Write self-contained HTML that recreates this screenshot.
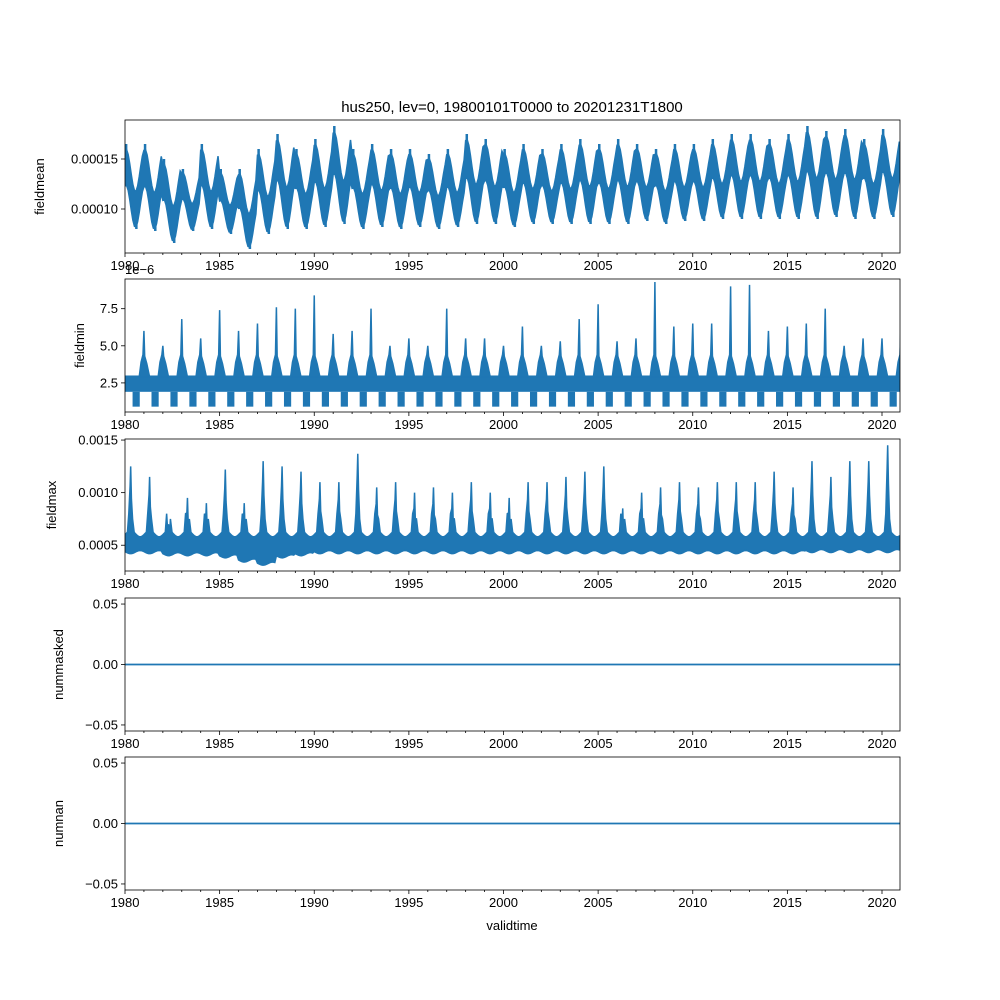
<!DOCTYPE html>
<html><head><meta charset="utf-8"><style>
html,body{margin:0;padding:0;background:#fff}
svg{display:block;font-family:"Liberation Sans","DejaVu Sans",sans-serif}
</style></head><body>
<svg id="chart" width="1000" height="1000" viewBox="0 0 1000 1000" xmlns="http://www.w3.org/2000/svg">
<rect width="1000" height="1000" fill="#fff"/>
<text x="512" y="112" font-size="15" text-anchor="middle">hus250, lev=0, 19800101T0000 to 20201231T1800</text>
<text x="512" y="930" font-size="13" text-anchor="middle">validtime</text>
<g id="plots"></g>
</svg>
<script>
const years=[];for(let y=1980;y<=2020;y++)years.push(y);
const meanPeak=[0.000165,0.000165,0.00015,0.00014,0.000165,0.00014,0.00014,0.00016,0.000175,0.00016,0.00017,0.000183,0.00016,0.000165,0.00016,0.00016,0.000155,0.00016,0.000175,0.00017,0.00016,0.000165,0.00016,0.000165,0.00017,0.000165,0.00017,0.000165,0.00016,0.000165,0.000165,0.00017,0.000175,0.000175,0.00017,0.000175,0.000183,0.000178,0.00018,0.00017,0.00018];
const meanLow=[0.00008,0.000078,0.000066,0.000078,0.00008,0.000075,0.00006,0.000075,0.00008,0.00008,0.000082,0.000085,0.00008,0.000082,0.00008,0.000082,0.00008,0.000082,0.000085,0.000085,0.000082,0.000085,0.000085,0.000085,0.000085,0.000085,0.000085,0.000088,0.000085,0.000088,0.000088,0.00009,0.00009,0.00009,0.00009,0.00009,0.00009,0.000092,0.00009,0.00009,0.000092];
const minPeak=[6,5,6.8,5.5,7.4,6,6.5,7.6,7.5,8.4,5.8,6,7.5,5,5.5,5,7.5,5.5,5.5,5,6.3,5,5.3,6.8,7.8,5.3,5.5,9.3,6.3,6.5,6.5,9,9.1,6,6.3,6.5,7.5,5,5.5,5.5,6.2];
const maxPeak=[0.00125,0.00115,0.0007,0.00095,0.0009,0.00122,0.0009,0.0013,0.00125,0.0012,0.0011,0.0011,0.00137,0.00105,0.0011,0.001,0.00105,0.001,0.0011,0.001,0.00095,0.0011,0.0011,0.00115,0.0012,0.00125,0.00085,0.001,0.00105,0.0011,0.00105,0.0011,0.0011,0.0011,0.0012,0.00105,0.0013,0.00115,0.0013,0.0013,0.00145];
const maxLow=[0.00042,0.00042,0.0004,0.0004,0.0004,0.00038,0.00034,0.00031,0.00038,0.0004,0.00042,0.00042,0.00042,0.00042,0.00042,0.00042,0.00042,0.00042,0.00042,0.00042,0.00042,0.00042,0.00042,0.00042,0.00042,0.00042,0.00042,0.00042,0.00042,0.00042,0.00042,0.00042,0.00042,0.00042,0.00042,0.00042,0.00043,0.00043,0.00043,0.00043,0.00043];
const xTicks=[1980,1985,1990,1995,2000,2005,2010,2015,2020];
const NS="http://www.w3.org/2000/svg";const C="#1f77b4";
const X0=125,X1=900;
const xs=t=>X0+(t-1980)*18.925;
const g=document.getElementById('plots');
function el(tag,at,par){const e=document.createElementNS(NS,tag);for(const k in at)e.setAttribute(k,at[k]);(par||g).appendChild(e);return e;}
function panel(name,top,bot,vmin,vmax,yt,ylab,label,labx){
  const ys=v=>bot-(v-vmin)/(vmax-vmin)*(bot-top);
  const grp=el('g',{});
  
  
  const clip=el('clipPath',{id:'c'+name},grp);el('rect',{x:X0,y:top,width:X1-X0,height:bot-top},clip);
  const data=el('g',{'clip-path':'url(#c'+name+')'},grp);
  
  
  for(let y=1980;y<=2021;y++){const x=xs(y);if(x>X1+0.5)break;const maj=xTicks.includes(y);
    el('line',{x1:x,x2:x,y1:bot,y2:bot+(maj?4:2),stroke:'#000','stroke-width':0.8},grp);
    if(maj){const t=el('text',{x:x,y:bot+17,'font-size':13,'text-anchor':'middle'},grp);t.textContent=y;
      }}
  yt.forEach((v,i)=>{const y=ys(v);el('line',{x1:X0-4,x2:X0,y1:y,y2:y,stroke:'#000','stroke-width':0.8},grp);
    const t=el('text',{x:X0-7,y:y+4.5,'font-size':13,'text-anchor':'end'},grp);t.textContent=ylab[i];
    });
  const yl=el('text',{x:labx,y:(top+bot)/2,'font-size':13,'text-anchor':'middle',transform:`rotate(-90 ${labx} ${(top+bot)/2})`},grp);yl.textContent=label;
  
  const fr=el('rect',{x:X0,y:top,width:X1-X0,height:bot-top,fill:'none',stroke:'#000','stroke-width':0.8},grp);
  
  return {ys,data};
}
// Panel 1 fieldmean
let p=panel('fieldmean',120,253,0.000056,0.000189,[0.0001,0.00015],['0.00010','0.00015'],'fieldmean',44);
{let up=[],lo=[];
 years.forEach((y,i)=>{const hi=meanPeak[i],l=meanLow[i],r=hi-l;
  for(let m=0;m<12;m++){const t=y+m/12;const w=(Math.cos(2*Math.PI*(t-y-0.05))+1)/2;
   const c=l+r*(0.22+0.5*w);up.push([xs(t),p.ys(c+r*0.22)]);lo.push([xs(t),p.ys(c-r*0.2)]);}
  const s=el('line',{x1:xs(y+0.06),x2:xs(y+0.06),y1:p.ys(hi),y2:p.ys(l+r*0.5),stroke:C,'stroke-width':2.5},p.data);
  
  const s2=el('line',{x1:xs(y+0.6),x2:xs(y+0.6),y1:p.ys(l),y2:p.ys(l+r*0.3),stroke:C,'stroke-width':2.5},p.data);
  });
 const poly=el('polygon',{points:up.concat(lo.reverse()).map(q=>q.join(',')).join(' '),fill:C,stroke:C,'stroke-width':1.5},p.data);
 }
// Panel 2 fieldmin
p=panel('fieldmin',279,412,0.54e-6,9.5e-6,[2.5e-6,5e-6,7.5e-6],['2.5','5.0','7.5'],'fieldmin',84);
{const off=el('text',{x:125,y:274,'font-size':13},g);off.textContent='1e\u22126';
 
 const b=el('rect',{x:X0,y:p.ys(3.0e-6),width:X1-X0,height:p.ys(1.9e-6)-p.ys(3.0e-6),fill:C},p.data);
 
 years.forEach((y,i)=>{
  const d=el('rect',{x:xs(y+0.4),y:p.ys(1.9e-6),width:xs(y+0.78)-xs(y+0.4),height:p.ys(0.9e-6)-p.ys(1.9e-6),fill:C},p.data);
  
  const pk=minPeak[i]*1e-6;
  const tri=el('polygon',{points:`${xs(y+0.75)},${p.ys(2.9e-6)} ${xs(y+0.85)},${p.ys(3.9e-6)} ${xs(y+0.95)},${p.ys(4.4e-6)} ${xs(y+1.0)},${p.ys(pk)} ${xs(y+1.04)},${p.ys(4.3e-6)} ${xs(y+1.15)},${p.ys(3.8e-6)} ${xs(y+1.3)},${p.ys(2.9e-6)}`,fill:C,stroke:C,'stroke-width':1.5},p.data);
  });}
// Panel 3 fieldmax
p=panel('fieldmax',439,571,0.000255,0.00151,[0.0005,0.001,0.0015],['0.0005','0.0010','0.0015'],'fieldmax',56);
{let up=[],lo=[];
 years.forEach((y,i)=>{for(let m=0;m<12;m++){const t=y+m/12;const w=(Math.cos(2*Math.PI*(t-y-0.3))+1)/2;
   up.push([xs(t),p.ys(0.00058+0.00006*w)]);lo.push([xs(t),p.ys(maxLow[i]+0.00003*(1-w))]);}
  const pk=maxPeak[i];
  const tri=el('polygon',{points:`${xs(y+0.12)},${p.ys(0.0006)} ${xs(y+0.2)},${p.ys(0.0008)} ${xs(y+0.27)},${p.ys(pk*0.85)} ${xs(y+0.3)},${p.ys(pk)} ${xs(y+0.34)},${p.ys(pk*0.75)} ${xs(y+0.4)},${p.ys(0.00075)} ${xs(y+0.5)},${p.ys(0.0006)}`,fill:C,stroke:C,'stroke-width':1.5},p.data);
  });
 const poly=el('polygon',{points:up.concat(lo.reverse()).map(q=>q.join(',')).join(' '),fill:C,stroke:C,'stroke-width':1.5},p.data);
 }
// Panels 4,5
[['nummasked',598,731],['numnan',757,890]].forEach(([n,t,b])=>{
 const q=panel(n,t,b,-0.055,0.055,[-0.05,0,0.05],['\u22120.05','0.00','0.05'],n,63);
 const l=el('line',{x1:X0,x2:X1,y1:q.ys(0),y2:q.ys(0),stroke:C,'stroke-width':1.8},q.data);
 });
</script>
</body></html>
